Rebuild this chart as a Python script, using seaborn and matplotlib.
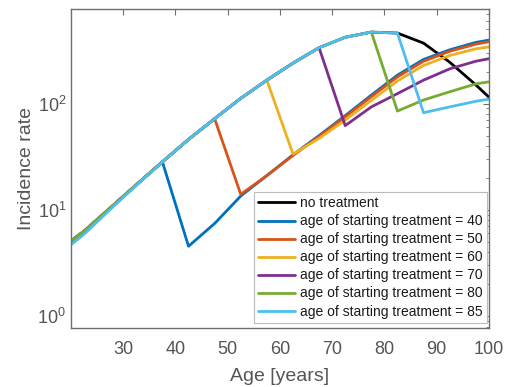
import numpy as np
import pandas as pd
import matplotlib
matplotlib.use("Agg")
import matplotlib.pyplot as plt
import seaborn as sns
from matplotlib.ticker import LogLocator, NullFormatter

# Age-group midpoints (years)
ages = [20, 22.5, 27.5, 32.5, 37.5, 42.5, 47.5, 52.5, 57.5, 62.5, 67.5,
        72.5, 77.5, 82.5, 87.5, 92.5, 97.5, 100]

no_treatment = [5.1, 6.3, 10.4, 17.2, 28.3, 46, 72, 112, 166, 240, 335,
                420, 470, 460, 370, 245, 150, 115]
start_40 = [5.1, 6.3, 10.4, 17.2, 28.3, 4.55, 7.45, 13.5, 21, 33, 50,
            77, 120, 185, 260, 320, 376, 395]
start_50 = [5.1, 6.3, 10.4, 17.2, 28.3, 46, 72, 14.0, 21, 32.5, 49,
            75, 116, 178, 250, 310, 362, 381]
start_60 = [5.1, 6.3, 10.4, 17.2, 28.3, 46, 72, 112, 166, 33.5, 47,
            70, 107, 163, 228, 283, 327, 341]
start_70 = [5.1, 6.3, 10.4, 17.2, 28.3, 46, 72, 112, 166, 240, 335,
            62, 93, 124, 166, 212, 250, 264]
start_80 = [5.1, 6.3, 10.4, 17.2, 28.3, 46, 72, 112, 166, 240, 335,
            420, 470, 85, 108, 129, 153, 160]
start_85 = [4.7, 5.9, 10.1, 17.0, 28.3, 46, 72, 112, 166, 240, 335,
            420, 470, 460, 82, 93, 105, 110]

labels = ["no treatment",
          "age of starting treatment = 40",
          "age of starting treatment = 50",
          "age of starting treatment = 60",
          "age of starting treatment = 70",
          "age of starting treatment = 80",
          "age of starting treatment = 85"]
series = [no_treatment, start_40, start_50, start_60, start_70, start_80, start_85]
colors = ["#000000", "#0072BD", "#D95319", "#EDB120", "#7E2F8E", "#77AC30", "#4DBEEE"]

df = pd.concat(
    [pd.DataFrame({"age": ages, "rate": vals, "scenario": lab})
     for lab, vals in zip(labels, series)],
    ignore_index=True,
)

sns.set_theme(style="white")
plt.rcParams["font.family"] = ["Liberation Sans", "DejaVu Sans"]

fig = plt.figure(figsize=(5.05, 3.87), dpi=100)
ax = fig.add_axes([0.1406, 0.1517, 0.8274, 0.8243])

sns.lineplot(data=df, x="age", y="rate", hue="scenario", hue_order=labels,
             palette=colors, linewidth=2.0, ax=ax, sort=False,
             estimator=None, legend=True)

ax.set_yscale("log")
ax.set_xlim(20, 100)
ax.set_ylim(0.77, 770)

axis_col = "#6e6e6e"
ax.set_xticks([30, 40, 50, 60, 70, 80, 90, 100])
ax.yaxis.set_major_locator(LogLocator(base=10, numticks=10))
ax.yaxis.set_minor_locator(LogLocator(base=10, subs=np.arange(2, 10), numticks=20))
ax.yaxis.set_minor_formatter(NullFormatter())
ax.tick_params(axis="both", which="both", direction="in", top=True, right=True,
               colors=axis_col, labelcolor="#555555")
ax.tick_params(axis="both", which="major", length=4, width=0.8, labelsize=13)
ax.tick_params(axis="y", which="minor", length=2.5, width=0.6)
ax.tick_params(axis="x", which="major", pad=9)
for sp in ax.spines.values():
    sp.set_color(axis_col)
    sp.set_linewidth(1.0)

ax.set_xlabel("Age [years]", fontsize=14, color="#555555", labelpad=7)
ax.set_ylabel("Incidence rate", fontsize=14, color="#555555", labelpad=2)

handles, _ = ax.get_legend_handles_labels()
leg = ax.legend(handles=handles, labels=labels, loc="lower right",
                bbox_to_anchor=(0.995, 0.0176), borderaxespad=0,
                prop={"size": 10}, frameon=True, fancybox=False, framealpha=1,
                edgecolor="#bbbbbb", handlelength=2.66, handletextpad=0.36,
                labelspacing=0.29, borderpad=0.3)
leg.get_frame().set_linewidth(0.8)
for line in leg.get_lines():
    line.set_linewidth(2.0)
for t in leg.get_texts():
    t.set_color("#1a1a1a")

fig.savefig("out.png", dpi=100)
